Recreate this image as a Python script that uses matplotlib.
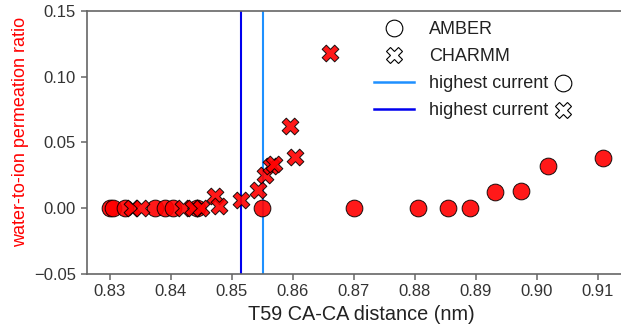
import matplotlib
matplotlib.use('Agg')
import matplotlib.pyplot as plt
from matplotlib.lines import Line2D
from matplotlib.ticker import MultipleLocator

plt.rcParams['font.family'] = ['Liberation Sans', 'DejaVu Sans']

# AMBER
amber_x = [0.8300, 0.8305, 0.8325, 0.8374, 0.8390, 0.8403, 0.8443, 0.8550,
           0.8700, 0.8805, 0.8855, 0.8890, 0.8932, 0.8974, 0.9018, 0.9108]
amber_y = [0.0, 0.0, 0.0, 0.0, 0.0, 0.0, 0.0, 0.0,
           0.0, 0.0, 0.0, 0.0, 0.0121, 0.0134, 0.0323, 0.0382]

# CHARMM
charmm_x = [0.8336, 0.8352, 0.8420, 0.8437, 0.8450, 0.8472, 0.8480, 0.8516,
            0.8543, 0.8554, 0.8565, 0.8570, 0.8595, 0.8603, 0.8661]
charmm_y = [0.0, 0.0, 0.0, 0.0, 0.0, 0.0096, 0.0015, 0.0066,
            0.0142, 0.0255, 0.0318, 0.0339, 0.0627, 0.0392, 0.1182]

best_amber = 0.8551
best_charmm = 0.8515

fig = plt.figure(figsize=(6.21, 3.27), dpi=100)
ax = fig.add_axes([0.1393, 0.162, 0.884, 0.805])

ax.scatter(amber_x, amber_y, s=145, marker='o', color='red', edgecolor='black',
           linewidth=0.7, alpha=0.9, zorder=3)
ax.scatter(charmm_x, charmm_y, s=145, marker='X', color='red', edgecolor='black',
           linewidth=0.7, alpha=0.9, zorder=3)
ax.axvline(best_amber, color='#1e90ff', lw=1.5, zorder=2)
ax.axvline(best_charmm, color='#0000ee', lw=1.5, zorder=2)

ax.set_xlim(0.8262, 0.9162)
ax.set_ylim(-0.05, 0.15)
ax.xaxis.set_major_locator(MultipleLocator(0.01))
ax.yaxis.set_major_locator(MultipleLocator(0.05))

for sp in ax.spines.values():
    sp.set_color('#666666')
    sp.set_linewidth(1.2)
ax.tick_params(direction='out', length=4, width=1.1, color='#666666',
               labelcolor='#333333', labelsize=12)

ax.set_xlabel('T59 CA-CA distance (nm)', fontsize=14.3, color='#222222', labelpad=4)
ax.set_ylabel('water-to-ion permeation ratio', fontsize=13, color='red')
ax.yaxis.set_label_coords(-0.105, 0.54)

ms = 12
handles = [
    Line2D([], [], ls='none', marker='o', ms=ms, mfc='white', mec='black', mew=0.8),
    Line2D([], [], ls='none', marker='X', ms=ms, mfc='white', mec='black', mew=0.8),
    Line2D([], [], color='#1e90ff', lw=1.8),
    Line2D([], [], color='#0000ee', lw=1.8),
]
labels = ['AMBER', 'CHARMM', 'highest current', 'highest current']
leg = ax.legend(handles, labels, loc='upper left', bbox_to_anchor=(0.5237, 0.96),
                frameon=False, fontsize=13, handlelength=2.2, handletextpad=0.83,
                labelspacing=0.55, borderpad=0, borderaxespad=0)
for t in leg.get_texts():
    t.set_color('#222222')

# symbols after the "highest current" labels
fig.canvas.draw()
inv = fig.transFigure.inverted()
for t, mk in zip(leg.get_texts()[2:], ['o', 'X']):
    bb = t.get_window_extent()
    px = bb.x1 + 7 + 8
    py = (bb.y0 + bb.y1) / 2 + 1
    fx, fy = inv.transform((px, py))
    fig.add_artist(Line2D([fx], [fy], transform=fig.transFigure, ls='none', marker=mk,
                          ms=ms, mfc='white', mec='black', mew=0.8))

fig.savefig('out.png', dpi=100)
